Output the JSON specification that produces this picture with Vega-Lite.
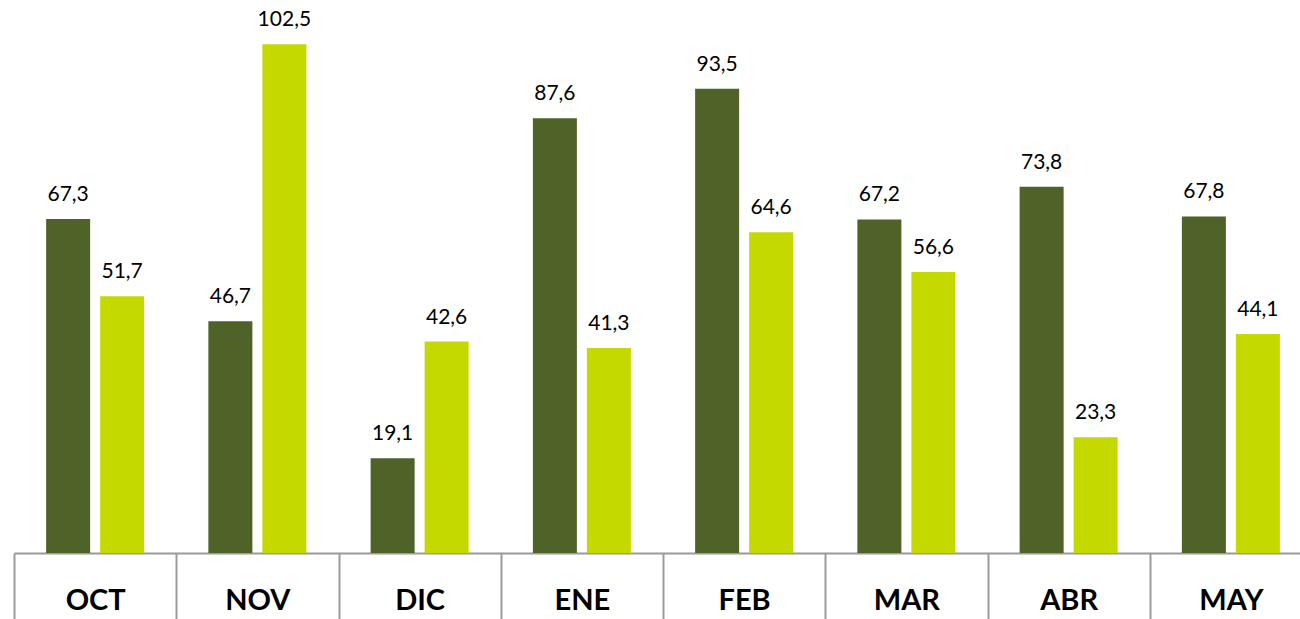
{
  "$schema": "https://vega.github.io/schema/vega-lite/v6.json",
  "autosize": {"type": "none"},
  "width": 1286,
  "height": 553,
  "padding": {"left": 14, "top": 0, "right": 0, "bottom": 66},
  "background": "white",
  "config": {
    "view": {"stroke": null},
    "locale": {"number": {"decimal": ",", "thousands": ".", "grouping": [3], "currency": ["", " €"]}}
  },
  "data": {
    "values": [
      {"mes": "OCT", "serie": "A", "valor": 67.3},
      {"mes": "OCT", "serie": "B", "valor": 51.7},
      {"mes": "NOV", "serie": "A", "valor": 46.7},
      {"mes": "NOV", "serie": "B", "valor": 102.5},
      {"mes": "DIC", "serie": "A", "valor": 19.1},
      {"mes": "DIC", "serie": "B", "valor": 42.6},
      {"mes": "ENE", "serie": "A", "valor": 87.6},
      {"mes": "ENE", "serie": "B", "valor": 41.3},
      {"mes": "FEB", "serie": "A", "valor": 93.5},
      {"mes": "FEB", "serie": "B", "valor": 64.6},
      {"mes": "MAR", "serie": "A", "valor": 67.2},
      {"mes": "MAR", "serie": "B", "valor": 56.6},
      {"mes": "ABR", "serie": "A", "valor": 73.8},
      {"mes": "ABR", "serie": "B", "valor": 23.3},
      {"mes": "MAY", "serie": "A", "valor": 67.8},
      {"mes": "MAY", "serie": "B", "valor": 44.1}
    ]
  },
  "encoding": {
    "x": {
      "field": "mes", "type": "nominal", "sort": null,
      "scale": {"paddingInner": 0, "paddingOuter": 0, "range": [0, 1298]},
      "axis": {
        "title": null, "labelAngle": 0, "labelFont": "Lato", "labelFontSize": 29, "labelFontWeight": "bold",
        "labelColor": "#000000", "labelPadding": -33, "tickBand": "extent", "tickSize": 66,
        "tickColor": "#9a9a9a", "tickWidth": 2, "domainColor": "#9a9a9a", "domainWidth": 2, "labelFlush": false
      }
    },
    "xOffset": {"field": "serie", "type": "nominal", "scale": {"paddingInner": 0.185, "paddingOuter": 0.595}},
    "y": {
      "field": "valor", "type": "quantitative",
      "scale": {"domain": [0, 111.4], "nice": false, "zero": true},
      "axis": null
    }
  },
  "layer": [
    {
      "mark": {"type": "bar"},
      "encoding": {
        "color": {"field": "serie", "type": "nominal", "scale": {"domain": ["A", "B"], "range": ["#4F6228", "#C3D900"]}, "legend": null}
      }
    },
    {
      "mark": {"type": "text", "font": "Lato", "fontSize": 21, "color": "#000000", "baseline": "alphabetic", "dy": -18},
      "encoding": {
        "text": {"field": "valor", "type": "quantitative", "format": ".1f"}
      }
    }
  ]
}
